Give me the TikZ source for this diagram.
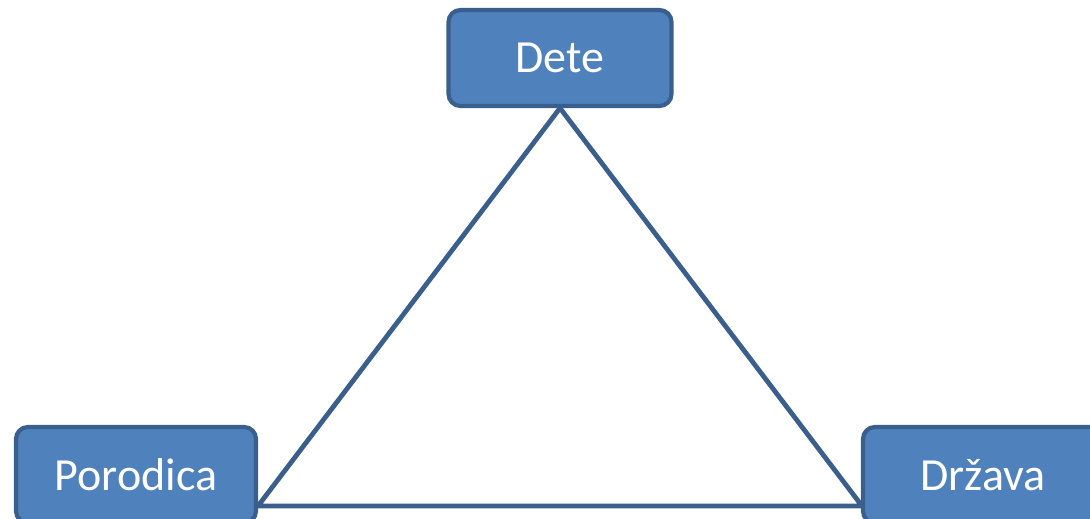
\documentclass[tikz,border=0pt]{standalone}
\usepackage{fontspec}
\setmainfont{Carlito}
\definecolor{boxfill}{HTML}{4F81BD}
\definecolor{boxline}{HTML}{3A5F8C}
\begin{document}
\begin{tikzpicture}[x=1pt,y=1pt,
  box/.style={draw=boxline,fill=boxfill,line width=4.2pt,rounded corners=12pt,
    text=white,font=\fontsize{46}{50}\selectfont,inner sep=0pt,
    minimum height=96pt},
  link/.style={draw=boxline,line width=4.8pt}]
\useasboundingbox (0,0) rectangle (1090,-519);
\coordinate (pl) at (258,-506);
\coordinate (pr) at (862,-506);
\node[box,minimum width=223pt] (dete) at (560,-58) {Dete};
\draw[link] (dete.south) -- (pl) -- (pr) -- cycle;
\node[box,minimum width=240pt] (porodica) at (136,-475) {Porodica};
\node[box,minimum width=240pt] (drzava) at (983,-475) {Država};
\end{tikzpicture}
\end{document}
